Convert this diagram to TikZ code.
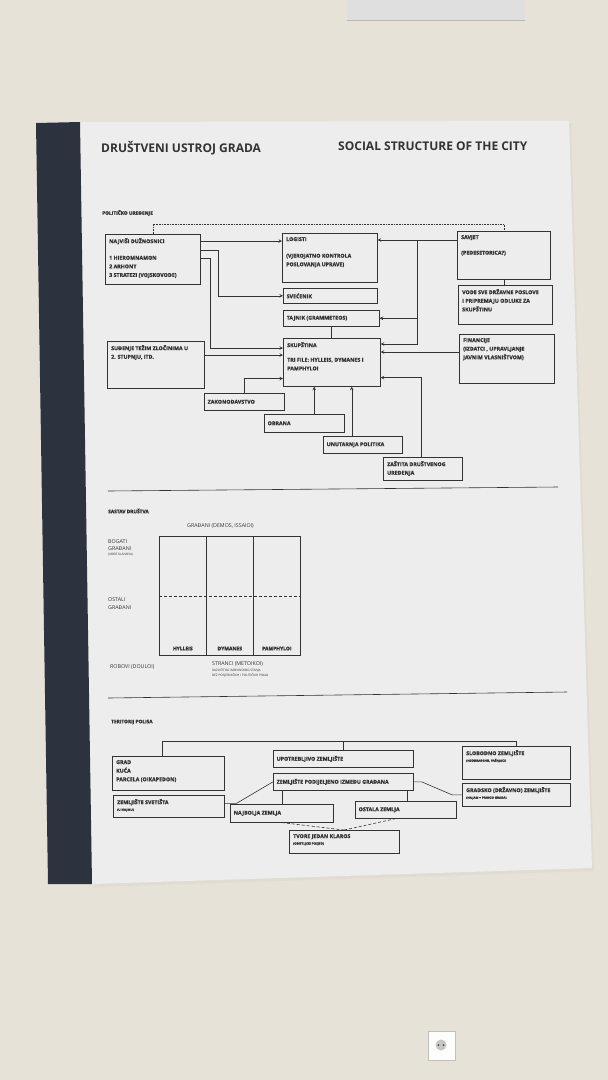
\documentclass[tikz,border=0pt]{standalone}
\usepackage{fontspec}
\setmainfont{Open Sans}
\newfontfamily\semifont{Open Sans}[FakeBold=1.1]
\newfontfamily\heavyfont{Open Sans}[FakeBold=2.2]
\usetikzlibrary{shapes,arrows,positioning,calc}

\definecolor{wall}{HTML}{E7E2D8}
\definecolor{board}{HTML}{EDEDED}
\definecolor{spine}{HTML}{2C333E}
\definecolor{ink}{HTML}{333333}
\newcommand\bxfont{\semifont\bfseries\fontsize{5.3}{8.6}\selectfont}
\newcommand\smfont{\fontsize{3.1}{4.4}\selectfont}

\begin{document}
\begin{tikzpicture}[x=1pt, y=-1pt,
    box/.style 2 args={draw=ink, line width=.6pt, anchor=north west, inner sep=0pt, minimum width=#1, minimum height=#2},
    intext/.style={anchor=north west, align=left, inner sep=4pt, text=ink, font=\bxfont},
    tl/.style={label={[intext]north west:{#1}}},
    ml/.style={label={[intext, anchor=west, inner sep=3.5pt]west:{#1}}},
    bl/.style={label={[intext, anchor=south, yshift=1pt, font=\heavyfont\bfseries\fontsize{5}{6}\selectfont]south:{#1}}},
    head/.style={anchor=west, inner sep=0pt, text=ink, font=\bfseries\fontsize{12}{14}\selectfont},
    sub/.style={anchor=west, inner sep=0pt, text=ink, font=\heavyfont\bfseries\fontsize{4.8}{6}\selectfont},
    lbl/.style={anchor=north west, inner sep=0pt, align=left, text=ink, font=\bxfont},
    link/.style={draw=ink, line width=.6pt},
    arrow/.style={link, ->, >=stealth}
]
    % wall, poster and board
    \fill[wall] (0,0) rectangle (608,1080);
    \useasboundingbox (0,0) rectangle (608,1080);
    \fill[gray!25] (347,0) rectangle (525,20);
    \draw[gray!55, line width=.8pt] (347,20) -- (525,20);
    \fill[black!20, opacity=.25] (82,124) -- (571,123) -- (594,871) -- (94,887) -- cycle;
    \fill[board] (80,122) -- (569,121) -- (592,868) -- (92,884) -- cycle;
    \fill[spine] (36,123) -- (80,122) -- (92,884) -- (48,884) -- cycle;
    \fill[white!92!wall, draw=gray!50] (428,1031) rectangle (455,1060);
    \fill[gray!45] (441,1045) circle (5.5);
    \fill[black!70] (438.5,1045) circle (1) (443.5,1045) circle (1);

    % titles
    \node[head] (naslov) at (101,148) {DRUŠTVENI USTROJ GRADA};
    \node[head] (title) at (338,146) {SOCIAL STRUCTURE OF THE CITY};

    % politicko uredenje
    \node[sub] (politika) at (102,213) {POLITIČKO UREĐENJE};
    \node[box={95pt}{50pt}, tl={NAJVIŠI DUŽNOSNICI\\[8pt]1 HIEROMNAMON\\2 ARHONT\\3 STRATEZI (VOJSKOVODE)}] (najvisi) at (105,234) {};
    \node[box={95pt}{49pt}, tl={LOGISTI\\[8pt](VJEROJATNO KONTROLA\\POSLOVANJA UPRAVE)}] (logisti) at (282,233) {};
    \node[box={93pt}{48pt}, tl={SAVJET\\[7pt](PEDESETORICA?)}] (savjet) at (457,231) {};
    \node[box={94pt}{39pt}, tl={VODE SVE DRŽAVNE POSLOVE\\I PRIPREMAJU ODLUKE ZA\\SKUPŠTINU}] (poslovi) at (458,285) {};
    \node[box={94pt}{15pt}, ml={SVEĆENIK}] (svecenik) at (283,288) {};
    \node[box={96pt}{16pt}, ml={TAJNIK (GRAMMETEOS)}] (tajnik) at (283,310) {};
    \node[box={97pt}{48pt}, tl={SKUPŠTINA\\[6pt]TRI FILE: HYLLEIS, DYMANES I\\PAMPHYLOI}] (skupstina) at (283,338) {};
    \node[box={97pt}{47pt}, tl={SUĐENJE TEŽIM ZLOČINIMA U\\2. STUPNJU, ITD.}] (sudenje) at (107,341) {};
    \node[box={95pt}{49pt}, tl={FINANCIJE\\(IZDATCI , UPRAVLJANJE\\JAVNIM VLASNIŠTVOM)}] (financije) at (459,334) {};
    \node[box={80pt}{17pt}, ml={ZAKONODAVSTVO}] (zakonodavstvo) at (204,393) {};
    \node[box={80pt}{18pt}, ml={OBRANA}] (obrana) at (264,414) {};
    \node[box={79pt}{17pt}, ml={UNUTARNJA POLITIKA}] (unutarnja) at (323,436) {};
    \node[box={79pt}{23pt}, tl={ZAŠTITA DRUŠTVENOG\\UREĐENJA}] (zastita) at (383,457) {};

    \draw[link, densely dotted] (najvisi.north) -- ++(0,-10) -| (savjet.north);
    \draw[arrow] ([yshift=-7pt]najvisi.north east) coordinate (n1) -- (n1 -| logisti.west);
    \draw[arrow] ([yshift=-16pt]najvisi.north east) -- ++(18,0) |- (svecenik.west);
    \draw[arrow] ([yshift=-24pt]najvisi.north east) -- ++(10,0) |- ([yshift=-10pt]skupstina.north west);
    \draw[arrow] ([yshift=-14pt]sudenje.north east) coordinate (s1) -- (s1 -| skupstina.west);
    \draw[arrow] ([yshift=-9pt]savjet.north west) coordinate (v1) -- (v1 -| logisti.east);
    \coordinate (knot) at ($(v1)+(-40,0)$);
    \draw[arrow] (knot) |- (tajnik.east);
    \draw[arrow] (knot) |- ([yshift=-6pt]skupstina.north east);
    \draw[link] (tajnik.south) -- (tajnik.south |- skupstina.north);
    \draw[link] (savjet.south) -- (savjet.south |- poslovi.north);
    \draw[arrow] ([yshift=-18pt]financije.north west) coordinate (f1) -- (f1 -| skupstina.east);
    \draw[arrow] (zakonodavstvo.north) |- ([yshift=8pt]skupstina.south west);
    \draw[arrow] ([xshift=10pt]obrana.north) coordinate (o1) -- (o1 |- skupstina.south);
    \draw[arrow] ([xshift=-11pt]unutarnja.north) coordinate (u1) -- (u1 |- skupstina.south);
    \draw[arrow] ([xshift=-2pt]zastita.north) |- ([yshift=9pt]skupstina.south east);

    \draw[link] (108,491) -- (558,487);

    % sastav drustva
    \node[sub] (sastav) at (108,511) {SASTAV DRUŠTVA};
    \node[lbl, anchor=west, font=\fontsize{5.3}{7}\selectfont] (gradani) at (187,526) {GRAĐANI (DEMOS, ISSAIOI)};
    \node[lbl, font=\fontsize{5.3}{7.2}\selectfont] (bogati) at (108,539) {BOGATI\\GRAĐANI\\[-1.5pt]{\smfont (VOĐE KLANOVA)}};
    \node[lbl, font=\fontsize{5.3}{8.2}\selectfont] (ostali) at (108,597) {OSTALI\\GRAĐANI};
    \node[lbl, anchor=west, font=\fontsize{5.3}{7}\selectfont] (robovi) at (110,667) {ROBOVI (DOULOI)};
    \node[lbl, font=\fontsize{5.3}{6.6}\selectfont] (stranci) at (212,661) {STRANCI (METOIKOI)\\{\smfont RAZLIČITOG IMOVINSKOG STANJA}\\[-2pt]{\smfont BEZ POSJEDNIČKIH I POLITIČKIH PRAVA}};
    \node[box={47pt}{119pt}, bl={HYLLEIS}] (hylleis) at (159,536) {};
    \node[box={47pt}{119pt}, bl={DYMANES}] (dymanes) at (206,536) {};
    \node[box={47pt}{119pt}, bl={PAMPHYLOI}] (pamphyloi) at (253,536) {};
    \draw[link, densely dashed] ([yshift=-60pt]hylleis.north west) -- ([yshift=-60pt]pamphyloi.north east);

    \draw[link] (108,698) -- (567,692);

    % teritorij polisa
    \node[sub] (teritorij) at (111,722) {TERITORIJ POLISA};
    \node[box={112pt}{34pt}, tl={GRAD\\KUĆA\\PARCELA (OIKAPEDON)}] (grad) at (112,756) {};
    \node[box={111pt}{22pt}, tl={ZEMLJIŠTE SVETIŠTA\\[-2pt]{\smfont (U NAJMU)}}] (svetista) at (113,795) {};
    \node[box={140pt}{17pt}, ml={UPOTREBLJIVO ZEMLJIŠTE}] (upotrebljivo) at (273,750) {};
    \node[box={140pt}{17pt}, ml={ZEMLJIŠTE PODIJELJENO IZMEĐU GRAĐANA}] (podijeljeno) at (273,773) {};
    \node[box={108pt}{33pt}, tl={SLOBODNO ZEMLJIŠTE\\[-2pt]{\smfont (NEOBRAĐENO, PAŠNJACI)}}] (slobodno) at (462,746) {};
    \node[box={108pt}{23pt}, tl={GRADSKO (DRŽAVNO) ZEMLJIŠTE\\[-2pt]{\smfont (NAJAM = PRIHOD GRADA)}}] (gradsko) at (462,783) {};
    \node[box={103pt}{18pt}, ml={NAJBOLJA ZEMLJA}] (najbolja) at (230,804) {};
    \node[box={101pt}{17pt}, ml={OSTALA ZEMLJA}] (ostala) at (355,801) {};
    \node[box={110pt}{23pt}, tl={TVORE JEDAN KLAROS\\[-2pt]{\smfont (OBITELJSKI POSJED)}}] (klaros) at (289,830) {};

    \coordinate (bar) at ($(upotrebljivo.north)+(0,-9)$);
    \draw[link] (upotrebljivo.north) -- (bar);
    \draw[link] ([xshift=-6pt]grad.north) |- (bar) -| (slobodno.north);
    \draw[link] (podijeljeno.west) -- ([xshift=12pt,yshift=3pt]svetista.east) -- ([yshift=3pt]svetista.east);
    \draw[link] (podijeljeno.east) -- ++(8,0) -- ([xshift=-10pt]gradsko.west) -- (gradsko.west);
    \draw[link] ([xshift=9pt]podijeljeno.south west) coordinate (p1) -- (p1 |- najbolja.north);
    \draw[link] ([xshift=-6pt]podijeljeno.south east) coordinate (p2) -- (p2 |- ostala.north);
    \draw[link, densely dashed] (najbolja.south) -- (klaros.north);
    \draw[link, densely dashed] ([xshift=-10pt]ostala.south) -- (klaros.north);
\end{tikzpicture}
\end{document}
